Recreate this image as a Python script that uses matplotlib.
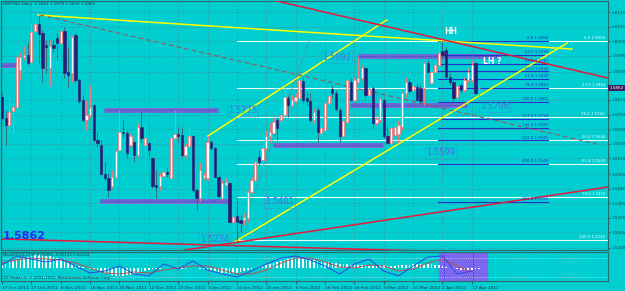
import numpy as np
import matplotlib
matplotlib.use("Agg")
import matplotlib.pyplot as plt
import matplotlib.transforms as mtrans

# daily GBPUSD candles, 17 Oct 2011 .. 16 Apr 2012
opens = [1.5823, 1.5737, 1.5709, 1.5768, 1.5785, 1.5937, 1.5992, 1.5999, 1.5971, 1.6099,
         1.6127, 1.6088, 1.6040, 1.5944, 1.6040, 1.6068, 1.6047, 1.6099, 1.5930, 1.5923,
         1.6082, 1.5895, 1.5812, 1.5730, 1.5750, 1.5790, 1.5647, 1.5626, 1.5506, 1.5488,
         1.5456, 1.5495, 1.5603, 1.5681, 1.5677, 1.5626, 1.5640, 1.5585, 1.5699, 1.5626,
         1.5633, 1.5571, 1.5461, 1.5454, 1.5498, 1.5514, 1.5488, 1.5654, 1.5670, 1.5668,
         1.5585, 1.5622, 1.5663, 1.5440, 1.5405, 1.5495, 1.5488, 1.5640, 1.5612, 1.5495,
         1.5405, 1.5461, 1.5467, 1.5309, 1.5332, 1.5316, 1.5316, 1.5323, 1.5433, 1.5481,
         1.5578, 1.5564, 1.5612, 1.5661, 1.5677, 1.5730, 1.5730, 1.5750, 1.5819, 1.5792,
         1.5810, 1.5819, 1.5892, 1.5819, 1.5810, 1.5730, 1.5771, 1.5674, 1.5688, 1.5799,
         1.5857, 1.5843, 1.5771, 1.5661, 1.5723, 1.5888, 1.5812, 1.5888, 1.5902, 1.5944,
         1.5833, 1.5861, 1.5716, 1.5730, 1.5812, 1.5661, 1.5633, 1.5668, 1.5672, 1.5702,
         1.5840, 1.5888, 1.5854, 1.5865, 1.5861, 1.5861, 1.5967, 1.5881, 1.5930, 1.5957,
         1.6013, 1.6019, 1.5909, 1.5888, 1.5823, 1.5875, 1.5854, 1.5895, 1.5895, 1.5964,
         1.5862]
highs = [1.5840, 1.5771, 1.5826, 1.5799, 1.5999, 1.6006, 1.6036, 1.6047, 1.6130, 1.6146,
         1.6164, 1.6102, 1.6061, 1.6061, 1.6064, 1.6088, 1.6109, 1.6116, 1.6033, 1.6082,
         1.6088, 1.5902, 1.5833, 1.5812, 1.5875, 1.5794, 1.5681, 1.5647, 1.5557, 1.5509,
         1.5523, 1.5605, 1.5771, 1.5730, 1.5688, 1.5674, 1.5647, 1.5716, 1.5764, 1.5716,
         1.5640, 1.5578, 1.5523, 1.5509, 1.5536, 1.5536, 1.5661, 1.5771, 1.5702, 1.5702,
         1.5633, 1.5702, 1.5668, 1.5447, 1.5557, 1.5516, 1.5661, 1.5647, 1.5619, 1.5502,
         1.5481, 1.5488, 1.5474, 1.5357, 1.5371, 1.5336, 1.5343, 1.5440, 1.5495, 1.5571,
         1.5605, 1.5626, 1.5688, 1.5716, 1.5743, 1.5743, 1.5785, 1.5875, 1.5833, 1.5833,
         1.5840, 1.5916, 1.5909, 1.5847, 1.5840, 1.5778, 1.5785, 1.5716, 1.5806, 1.5840,
         1.5875, 1.5854, 1.5778, 1.5743, 1.5902, 1.5902, 1.5909, 1.5992, 1.5957, 1.5950,
         1.5868, 1.5868, 1.5743, 1.5826, 1.5819, 1.5699, 1.5709, 1.5716, 1.5730, 1.5847,
         1.5909, 1.5902, 1.5888, 1.5881, 1.5875, 1.5971, 1.5978, 1.5944, 1.5971, 1.6058,
         1.6054, 1.6033, 1.5923, 1.5902, 1.5881, 1.5888, 1.5909, 1.5944, 1.5978, 1.5971,
         1.5879]
lows = [1.5730, 1.5626, 1.5674, 1.5674, 1.5778, 1.5895, 1.5978, 1.5957, 1.5957, 1.6088,
        1.5964, 1.5888, 1.5923, 1.5868, 1.6006, 1.5978, 1.6040, 1.5902, 1.5865, 1.5888,
        1.5888, 1.5799, 1.5723, 1.5688, 1.5743, 1.5640, 1.5619, 1.5502, 1.5481, 1.5412,
        1.5447, 1.5488, 1.5599, 1.5654, 1.5571, 1.5619, 1.5557, 1.5578, 1.5640, 1.5578,
        1.5578, 1.5447, 1.5405, 1.5440, 1.5488, 1.5495, 1.5481, 1.5647, 1.5640, 1.5578,
        1.5578, 1.5616, 1.5433, 1.5357, 1.5392, 1.5481, 1.5481, 1.5605, 1.5488, 1.5405,
        1.5398, 1.5454, 1.5302, 1.5274, 1.5233, 1.5260, 1.5295, 1.5309, 1.5426, 1.5474,
        1.5543, 1.5523, 1.5605, 1.5640, 1.5672, 1.5647, 1.5716, 1.5743, 1.5743, 1.5785,
        1.5799, 1.5806, 1.5799, 1.5792, 1.5723, 1.5716, 1.5640, 1.5661, 1.5681, 1.5792,
        1.5819, 1.5768, 1.5640, 1.5654, 1.5716, 1.5806, 1.5806, 1.5881, 1.5895, 1.5826,
        1.5819, 1.5695, 1.5709, 1.5723, 1.5654, 1.5633, 1.5626, 1.5661, 1.5633, 1.5688,
        1.5826, 1.5840, 1.5847, 1.5806, 1.5799, 1.5792, 1.5923, 1.5875, 1.5923, 1.5950,
        1.5978, 1.5902, 1.5875, 1.5806, 1.5812, 1.5840, 1.5847, 1.5888, 1.5888, 1.5833,
        1.5818]
closes = [1.5737, 1.5709, 1.5764, 1.5785, 1.5992, 1.5992, 1.5997, 1.5967, 1.6095, 1.6127,
          1.6086, 1.5944, 1.6033, 1.6037, 1.6026, 1.6047, 1.6099, 1.5923, 1.5916, 1.6075,
          1.5895, 1.5810, 1.5730, 1.5748, 1.5781, 1.5647, 1.5633, 1.5506, 1.5488, 1.5440,
          1.5492, 1.5599, 1.5681, 1.5674, 1.5592, 1.5661, 1.5585, 1.5699, 1.5654, 1.5656,
          1.5605, 1.5456, 1.5451, 1.5498, 1.5512, 1.5506, 1.5654, 1.5670, 1.5661, 1.5585,
          1.5622, 1.5661, 1.5440, 1.5405, 1.5523, 1.5502, 1.5640, 1.5612, 1.5495, 1.5415,
          1.5467, 1.5474, 1.5309, 1.5329, 1.5309, 1.5302, 1.5329, 1.5433, 1.5481, 1.5557,
          1.5557, 1.5612, 1.5663, 1.5681, 1.5723, 1.5695, 1.5750, 1.5823, 1.5792, 1.5812,
          1.5823, 1.5895, 1.5812, 1.5810, 1.5730, 1.5764, 1.5681, 1.5695, 1.5799, 1.5829,
          1.5840, 1.5774, 1.5661, 1.5727, 1.5895, 1.5812, 1.5895, 1.5902, 1.5944, 1.5833,
          1.5858, 1.5716, 1.5732, 1.5815, 1.5663, 1.5636, 1.5695, 1.5699, 1.5709, 1.5840,
          1.5888, 1.5851, 1.5868, 1.5812, 1.5810, 1.5964, 1.5930, 1.5930, 1.5957, 1.6006,
          1.5999, 1.5909, 1.5888, 1.5819, 1.5870, 1.5854, 1.5895, 1.5930, 1.5957, 1.5843,
          1.5862]

date_labels = ["17 Oct 2011", "27 Oct 2011", "8 Nov 2011", "18 Nov 2011", "30 Nov 2011",
               "12 Dec 2011", "22 Dec 2011", "3 Jan 2012", "13 Jan 2012", "25 Jan 2012",
               "6 Feb 2012", "16 Feb 2012", "28 Feb 2012", "9 Mar 2012", "21 Mar 2012",
               "2 Apr 2012", "12 Apr 2012"]
date_bars = [0, 8, 16, 24, 32, 40, 48, 56, 64, 72, 80, 88, 96, 104, 112, 120, 128]
price_ticks = [1.6175, 1.6115, 1.6055, 1.5995, 1.5930, 1.5813, 1.5750, 1.5690, 1.5630,
               1.5570, 1.5505, 1.5445, 1.5385, 1.5325, 1.5265, 1.5200]

# oscillator window (values in panel units)
osc_hist = [3, 4, 6, 7, 8, 9, 10, 11, 12, 13, 13, 13, 12, 12, 11, 10, 9, 7, 6, 4,
            3, 2, 1, 0, -1, -2, -3, -4, -5, -6, -7, -8, -8, -8, -7, -7, -6, -5, -4, -3,
            -2, -1, -1, -1, 0, 0, 0, -1, -1, -1, -1, 0, 0, 0, -1, -1, -2, -2, -3, -4,
            -5, -5, -6, -5, -5, -4, -3, -2, -1, 0, 1, 2, 3, 4, 5, 6, 7, 8, 9, 10,
            10, 10, 9, 9, 8, 8, 7, 7, 6, 6, 5, 5, 4, 4, 4, 3, 3, 3, 3, 3,
            2, 2, 2, 3, 3, 2, 2, 2, 3, 3, 3, 3, 4, 4, 4, 4, 4, 4, 3, 3,
            2, 1, 0, -1, -1, -2, -2, -2, -2, -1, -1]
osc_bars = [0, 4, 8, 12, 16, 20, 24, 28, 32, 36, 40, 44, 48, 52, 56, 60, 64, 68, 72, 76,
            80, 84, 88, 92, 96, 100, 104, 108, 112, 116, 120, 124, 128]
osc_blue = [3, 12, 9, 6, 9, 2, -5, -3, 2, -6, -8, 4, -1, 7, -2, -6, -9, -3, 4, 10,
            12, 8, 2, -6, 4, 9, -3, -8, 2, 11, 12, -6, -3]
osc_red = [5, 8, 10, 9, 8, 5, 0, -5, -6, -4, -5, -2, 0, 2, 2, -2, -6, -6, -2, 5,
           10, 10, 6, 1, 0, 3, 2, -3, -1, 5, 9, 2, -4]

# hand drawn objects: trend lines as (bar, price) pairs
yellow_lines = [((9.8, 1.6164), (155.3, 1.6023)),
                ((62.9, 1.5220), (154.0, 1.6048)),
                ((56.1, 1.5663), (104.9, 1.6144))]
red_lines = [((74.9, 1.6222), (165.1, 1.5903)),
             ((49.9, 1.5191), (165.1, 1.5452)),
             ((-0.5, 1.5237), (113.9, 1.5187))]
brown_dashed = ((10.4, 1.6164), (162.1, 1.5630))
brown_dotted = ((64.0, 1.5233), (83.9, 1.6061))
# support / resistance zones: (price, from bar, to bar)
zones = [(1.5957, -0.5, 4.4), (1.5771, 27.8, 58.9), (1.5394, 26.7, 61.6),
         (1.5626, 73.8, 103.8), (1.5792, 94.8, 126.7), (1.5994, 97.0, 135.7)]
zone_tags = [("1.5992", 87.2, 1.5990), ("1.5775", 61.6, 1.5767), ("1.5796", 130.2, 1.5787),
             ("1.5599", 115.5, 1.5593), ("1.5401", 71.7, 1.5390), ("1.5234", 54.0, 1.5233)]

fib_a_levels = [0.0, 23.6, 38.2, 50.0, 61.8, 78.6, 100.0]
fib_a_hi, fib_a_lo = 1.6058, 1.5234
fib_b_levels = [0.0, 23.6, 38.2, 50.0, 61.8, 76.4, 100.0, 127.2, 141.4, 161.8, 200.0, 261.8]
fib_b_hi, fib_b_lo = 1.6058, 1.5803

BG = "#00ced1"
GRID = "#3f9a9e"
BEAR = "#2e1a72"
BULL_EDGE = "#f08080"
ZONE = "#7b5fd6"

fig = plt.figure(figsize=(6.25, 2.91), dpi=100, facecolor=BG)
ax = fig.add_axes([1 / 625, 1 - 250 / 291, 607 / 625, 249 / 291], facecolor=BG)
axi = fig.add_axes([1 / 625, 1 - 281 / 291, 607 / 625, 29 / 291], facecolor=BG)

n = len(closes)
x = np.arange(n)
o = np.array(opens); c = np.array(closes); h = np.array(highs); l = np.array(lows)
up = c >= o

# grid
for b in date_bars:
    ax.axvline(b, color=GRID, lw=0.6, ls=(0, (2, 2)), zorder=0)
    axi.axvline(b, color=GRID, lw=0.6, ls=(0, (2, 2)), zorder=0)
for p in price_ticks:
    ax.axhline(p, color=GRID, lw=0.6, ls=(0, (2, 2)), zorder=0)

# zones
for p, x0, x1 in zones:
    ax.plot([x0, x1], [p, p], color=ZONE, lw=3.6, alpha=0.9, solid_capstyle="butt", zorder=1)
    ax.plot([x0, x1], [p, p], color="#3a2fb0", lw=0.6, ls=(0, (1, 1.5)), zorder=1)
ax.plot([97.0, 97.0], [1.5994, 1.5962], color=ZONE, lw=0.8, zorder=1)

# fib set A (white)
rng_a = fib_a_hi - fib_a_lo
for lev in fib_a_levels:
    p = fib_a_hi - rng_a * lev / 100
    ax.plot([64, 165.1], [p, p], color="#e6ffff", lw=0.8, zorder=2)
    ax.text(164.3, p + 0.0004, f"{lev:.1f} {p:.4f}", color="#e6ffff", fontsize=2.8,
            ha="right", va="bottom", zorder=6)
# fib set B (blue)
rng_b = fib_b_hi - fib_b_lo
for lev in fib_b_levels:
    p = fib_b_hi - rng_b * lev / 100
    ax.plot([118.8, 148.8], [p, p], color="#2233c8", lw=0.8, zorder=2)
    ax.text(148.8, p + 0.0003, f"{lev:.1f} {p:.4f}", color="#2233c8", fontsize=2.8,
            ha="right", va="bottom", zorder=6)

# trend lines
for (a, b) in yellow_lines:
    ax.plot([a[0], b[0]], [a[1], b[1]], color="#ffff00", lw=1.1, zorder=3)
for (a, b) in red_lines:
    ax.plot([a[0], b[0]], [a[1], b[1]], color="#e8173c", lw=1.1, zorder=3)
ax.plot([brown_dashed[0][0], brown_dashed[1][0]], [brown_dashed[0][1], brown_dashed[1][1]],
        color="#a0525a", lw=0.8, ls=(0, (4, 3)), zorder=3)
ax.plot([brown_dotted[0][0], brown_dotted[1][0]], [brown_dotted[0][1], brown_dotted[1][1]],
        color="#a0525a", lw=0.7, ls=(0, (1, 2)), zorder=3)
ax.plot([64, 64], [1.5233, 1.5410], color="#1a1a1a", lw=0.6, ls=(0, (1, 2)), zorder=3)

# candles
wick_col = np.where(up, BULL_EDGE, "#2f6f80")
ax.vlines(x, l, h, colors=wick_col, lw=0.7, zorder=4)
body_lo = np.minimum(o, c)
body_h = np.maximum(np.abs(c - o), 0.00008)
ax.bar(x[up], body_h[up], bottom=body_lo[up], width=0.62, color="white",
       edgecolor=BULL_EDGE, linewidth=0.6, zorder=5)
ax.bar(x[~up], body_h[~up], bottom=body_lo[~up], width=0.62, color=BEAR,
       edgecolor=BEAR, linewidth=0.4, zorder=5)

# zone price tags
for txt, bx, p in zone_tags:
    ax.text(bx, p, txt, color="#4a6fe0", fontsize=6, ha="left", va="center", zorder=7,
            bbox=dict(boxstyle="square,pad=0.15", fc="none", ec="#4a6fe0", lw=0.5, ls=":"))

ax.text(120.5, 1.6077, "HH", color="white", fontsize=5.5, fontweight="bold", ha="left",
        va="bottom", zorder=7)
ax.text(131.0, 1.5952, "LH ?", color="white", fontsize=5.5, fontweight="bold", ha="left",
        va="bottom", zorder=7)
ax.text(0.003, 0.035, "1.5862", transform=ax.transAxes, color="#2a2af0", fontsize=8,
        fontweight="bold", ha="left", va="bottom", zorder=7)
ax.text(0.004, 0.995, "GBPUSD,Daily  1.5862 1.5879 1.5818 1.5862", transform=ax.transAxes,
        color="#1c3c44", fontsize=3.0, ha="left", va="top")

# axes cosmetics
ax.set_xlim(-0.27, 165.1)
ax.set_ylim(1.5191, 1.6222)
ax.yaxis.tick_right()
ax.set_yticks(price_ticks)
ax.set_yticklabels([f"{p:.4f}" for p in price_ticks])
ax.tick_params(axis="y", labelsize=3.0, colors="#1c3c44", length=1.5, width=0.5, pad=1)
ax.set_xticks([])
for s in ax.spines.values():
    s.set_color("#2b6b6b"); s.set_linewidth(0.8)

tr = mtrans.blended_transform_factory(ax.transAxes, ax.transData)
ax.text(1.002, closes[-1], f"{closes[-1]:.4f}", transform=tr, color="white", fontsize=3.0,
        ha="left", va="center", zorder=8, clip_on=False,
        bbox=dict(boxstyle="square,pad=0.3", fc="#3b1f5f", ec="none"))

# oscillator panel
axi.axvspan(119.1, 132.2, color="#7b68ee", zorder=0)
for b in (120.5, 128.3):
    axi.axvline(b, color="#2a2ad0", lw=0.6, ls=(0, (1, 1.5)), zorder=1)
axi.axhline(10, color="white", lw=0.5, ls=(0, (1, 2)), zorder=1)
axi.axhline(-9, color="white", lw=0.5, ls=(0, (1, 2)), zorder=1)
axi.bar(x, osc_hist, width=0.45, color="white", zorder=2)
axi.plot(osc_bars, osc_red, color="#c0504d", lw=0.7, zorder=3)
axi.plot(osc_bars, osc_blue, color="#2a4ae0", lw=0.7, zorder=3)
axi.text(0.003, 0.97, "MacdCCI(8,17,9) 0.00093 -0.00132 0.00134", transform=axi.transAxes,
         color="#1c3c44", fontsize=2.8, ha="left", va="top")
axi.text(0.003, 0.04, "XO Trades 4, \u00a9 2001-2012, MetaQuotes Software Corp.",
         transform=axi.transAxes, color="#1c3c44", fontsize=2.8, ha="left", va="bottom")
axi.set_xlim(-0.27, 165.1)
axi.set_ylim(-13, 16)
axi.set_yticks([])
axi.set_xticks(date_bars)
axi.set_xticklabels(date_labels)
axi.tick_params(axis="x", labelsize=3.2, colors="#1c3c44", length=2, width=0.5, pad=1.5)
for lab in axi.get_xticklabels():
    lab.set_ha("left")
for s in axi.spines.values():
    s.set_color("#2b6b6b"); s.set_linewidth(0.8)

fig.savefig("out.png", dpi=100, facecolor=BG)
